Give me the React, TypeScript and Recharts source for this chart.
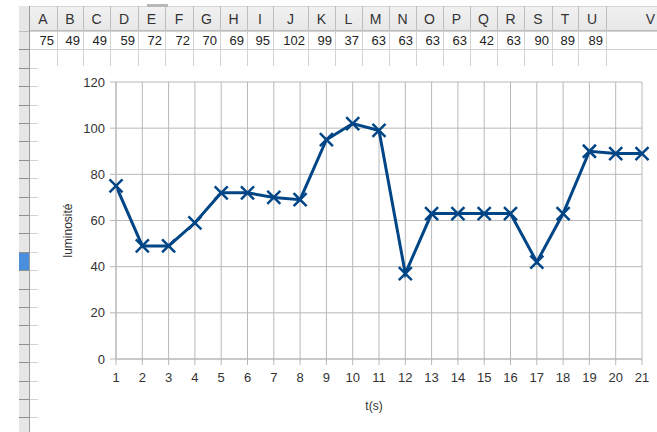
import React from 'react';
import { LineChart, Line, XAxis, YAxis, CartesianGrid, Label } from 'recharts';

// columns of the sheet and the measurements stored in row 1
const columns = ['A', 'B', 'C', 'D', 'E', 'F', 'G', 'H', 'I', 'J', 'K', 'L', 'M', 'N', 'O', 'P', 'Q', 'R', 'S', 'T', 'U', 'V'];
const times = [1, 2, 3, 4, 5, 6, 7, 8, 9, 10, 11, 12, 13, 14, 15, 16, 17, 18, 19, 20, 21];
const luminosity = [75, 49, 49, 59, 72, 72, 70, 69, 95, 102, 99, 37, 63, 63, 63, 63, 42, 63, 90, 89, 89];
const yTicks = [0, 20, 40, 60, 80, 100, 120];

const colWidths = [28, 26, 27, 28, 27, 28, 27, 27, 26, 35, 27, 27, 27, 27, 27, 27, 27, 27, 28, 26, 28, 84];
const ROW_H = 18.4;
const PAGE_W = 657;
const FONT = '"Liberation Sans", Arial, sans-serif';
const BLUE = '#004586';

const data = times.map((t, i) => ({ t, lum: luminosity[i] }));

function Cross(props: any) {
  const { cx, cy, index } = props;
  if (cx == null || cy == null) return null;
  const s = 6.5;
  return (
    <g key={`cross-${index}`}>
      <line x1={cx - s} y1={cy - s} x2={cx + s} y2={cy + s} stroke={BLUE} strokeWidth={2.5} />
      <line x1={cx - s} y1={cy + s} x2={cx + s} y2={cy - s} stroke={BLUE} strokeWidth={2.5} />
    </g>
  );
}

function Sheet() {
  let left = 29;
  const cols = columns.map((c, i) => {
    const x = left;
    left += colWidths[i];
    return { c, x, w: colWidths[i], v: luminosity[i] };
  });
  const rows = Array.from({ length: 22 }, (_, i) => 31 + i * ROW_H);

  return (
    <>
      {/* column header band */}
      <div style={{ position: 'absolute', left: 19, top: 6, width: 700, height: 25, background: 'linear-gradient(#f1f1f1, #e7e7e7)', borderTop: '1px solid #d4d4d4', borderBottom: '1px solid #bdbdbd', boxSizing: 'border-box' }} />
      <div style={{ position: 'absolute', left: 147, top: 4, width: 21, height: 3, background: '#b8b8b8' }} />
      {/* row header strip */}
      <div style={{ position: 'absolute', left: 19, top: 6, width: 10, height: 430, background: '#e6e6e6', borderRight: '1px solid #9a9a9a' }} />
      <div style={{ position: 'absolute', left: 19, top: rows[12], width: 10, height: ROW_H, background: '#4a8fdc' }} />
      {rows.map((y, i) => (
        <React.Fragment key={`r-${i}`}>
          <div style={{ position: 'absolute', left: 19, top: Math.round(y), width: 10, height: 1, background: i === 0 ? '#bdbdbd' : '#8f8f8f' }} />
          <div style={{ position: 'absolute', left: 30, top: Math.round(y), width: i < 2 ? 640 : 8, height: 1, background: '#d2d2d2' }} />
        </React.Fragment>
      ))}
      {cols.map(({ c, x, w, v }) => {
        const last = c === 'V';
        const textW = last ? PAGE_W - 2 - x : w;
        return (
          <React.Fragment key={c}>
            <div style={{ position: 'absolute', left: x + w, top: 6, width: 1, height: 25, background: '#bdbdbd' }} />
            <div style={{ position: 'absolute', left: x + w, top: 31, width: 1, height: 36, background: '#d2d2d2' }} />
            <div style={{ position: 'absolute', left: x, top: 7, width: textW, height: 24, lineHeight: '24px', textAlign: last ? 'right' : 'center', fontSize: 14, color: '#333', fontFamily: FONT }}>{c}</div>
            {v != null && (
              <div style={{ position: 'absolute', left: x, top: 32, width: w - 3, height: 17, lineHeight: '17px', textAlign: 'right', fontSize: 13, color: '#222', fontFamily: FONT }}>{v}</div>
            )}
          </React.Fragment>
        );
      })}
    </>
  );
}

export default function App() {
  return (
    <div style={{ position: 'absolute', left: 0, top: 0, width: PAGE_W, height: 432, overflow: 'hidden', background: '#fff' }}>
      <Sheet />
      <div style={{ position: 'absolute', left: 38, top: 66, width: 619, height: 366, background: '#fff' }}>
        <LineChart width={619} height={366} data={data} margin={{ top: 16, right: 15, bottom: 23, left: 0 }}>
          <CartesianGrid stroke="#b8b8b8" />
          <XAxis
            dataKey="t"
            type="number"
            domain={[1, 21]}
            ticks={times}
            height={50}
            tickSize={6}
            tickMargin={8}
            stroke="#b8b8b8"
            tick={{ fill: '#333', fontSize: 13, fontFamily: FONT }}
          >
            <Label
              content={({ viewBox }: any) => (
                <text x={viewBox.x + viewBox.width / 2 - 5} y={viewBox.y + 50.5} textAnchor="middle" fontSize={12} fontFamily={FONT} fill="#333">
                  t(s)
                </text>
              )}
            />
          </XAxis>
          <YAxis
            domain={[0, 120]}
            ticks={yTicks}
            width={78}
            tickSize={6}
            tickMargin={5}
            stroke="#b8b8b8"
            tick={{ fill: '#333', fontSize: 13, fontFamily: FONT }}
          >
            <Label
              content={({ viewBox }: any) => {
                const cx = viewBox.x + 30;
                const cy = viewBox.y + viewBox.height / 2 + 10;
                return (
                  <text x={cx} y={cy} transform={`rotate(-90, ${cx}, ${cy})`} textAnchor="middle" dominantBaseline="central" fontSize={12} fontFamily={FONT} fill="#333">
                    luminosité
                  </text>
                );
              }}
            />
          </YAxis>
          <Line
            dataKey="lum"
            stroke={BLUE}
            strokeWidth={3}
            dot={Cross}
            activeDot={false}
            isAnimationActive={false}
          />
        </LineChart>
      </div>
    </div>
  );
}
